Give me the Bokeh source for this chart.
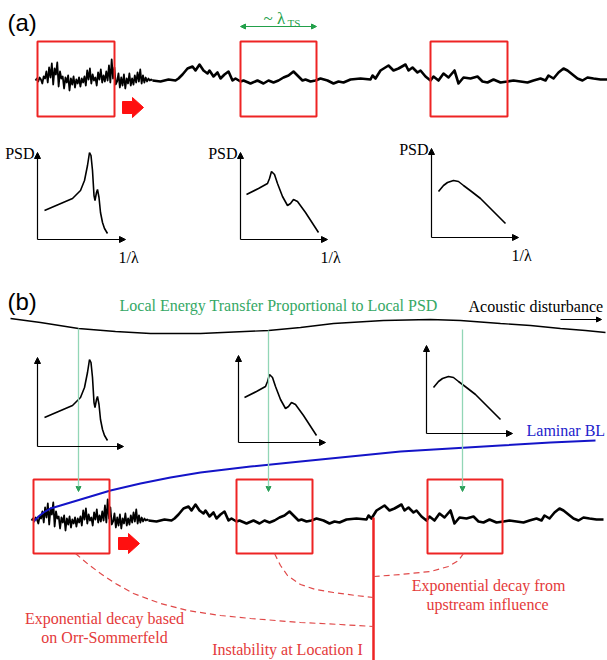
from bokeh.plotting import figure
from bokeh.models import Range1d, Arrow, NormalHead
from bokeh.embed import file_html
from bokeh.resources import INLINE
from bokeh.core.properties import value
import numpy as np

# ---------------- data ----------------
# noisy near-leading-edge part of the disturbance signal (upward offsets, px)
noise_up = [0, 2, -1, 3, 1, -3, 4, 2, 9, -2, 13, 3, 17, -4, 12, 6, 18, -6, 9, 2,
            4, -8, 3, -2, 5, -10, 2, -4, 4, -7, 1, -3, 3, -6, 2, -2, 4, -5, 10, 1,
            12, -3, 6, 0, 3, -5, 8, 1, 11, -2, 5, -1, 9, 0, 15, -2, 21, 2, 13, -4,
            -1, 7, -7, 3, -5, 6, -8, 2, -3, 7, -5, 2, -4, 5, -2, 8, -1, 11, -3, 5,
            -2, 3, -1, 2, 0, 1, 0]
# smoother downstream part of the signal
smooth_x = [152, 160, 168, 175, 178, 182, 187, 192, 195, 199, 203, 207, 209, 213, 217,
            220, 224, 228, 232, 235, 240, 243, 250, 257, 263, 268, 273, 278, 283, 288,
            293, 298, 302, 305, 310, 315, 320, 327, 333, 338, 343, 350, 360, 370, 372,
            375, 380, 388, 393, 398, 405, 408, 412, 417, 420, 425, 430, 433, 438, 443,
            448, 454, 458, 463, 470, 477, 482, 487, 493, 500, 507, 513, 520, 527, 533,
            540, 545, 548, 553, 558, 563, 567, 572, 577, 582, 587, 593, 600, 607]
smooth_up = [0, -1, 1, 0, 2, 6, 12, 14, 10, 16, 10, 7, 10, 4, 8,
             2, 6, 9, 0, 2, -1, 0, -3, 0, -3, 0, -2, 0, 3, 5,
             9, 4, 0, 1, -1, 0, 2, 0, -3, -1, -2, 1, 2, 1, 5,
             2, 10, 15, 10, 12, 16, 10, 13, 8, 10, 4, 0, 4, 0, 7,
             3, 10, -3, 3, 2, 4, -1, -2, 1, -2, -1, 0, -1, -2, 0,
             2, 0, 5, 2, 8, 12, 10, 6, 2, 0, 3, 2, 1, 1]

# PSD sketches: (distance along 1/lambda axis, height above axis)
psd1_dx = [7, 21, 35, 43, 47, 50, 52, 53.5, 55, 56.5, 57.5, 59, 60, 61.5, 63, 65, 67, 70]
psd1_h = [29, 35, 41, 49, 59, 74, 87, 84, 69, 44, 39, 47, 50, 42, 27, 17, 11, 6]
psd2_dx = [6, 18, 27, 29, 31, 34, 37, 42, 47, 50, 53, 57, 65, 78]
psd2_h = [45, 51, 56, 61, 68, 65, 56, 43, 34, 36, 40, 38, 27, 7]
psd3_dx = [7, 12, 16, 22, 27, 32, 40, 49, 60, 74]
psd3_h = [46, 52, 55, 57, 56, 52, 46, 39, 28, 14]

# acoustic disturbance wave
ac_x = [10, 40, 78, 115, 150, 200, 268, 300, 333, 383, 430, 460, 500, 530, 560, 585, 605]
ac_y = [318, 322, 328, 331, 333, 333, 330, 327, 323, 320, 319, 320, 323, 325, 328, 330, 332]

# laminar boundary layer edge
bl_x = [33, 38, 43, 50, 60, 70, 90, 110, 140, 170, 200, 250, 300, 350, 400, 450, 500, 550, 595]
bl_y = [521, 516, 512, 508, 505, 502, 496, 490, 483, 477, 472, 466, 461, 456, 451, 448, 445, 442, 440]

# decay paths (dashed)
d1_x = [75, 88, 100, 115, 133, 160, 187, 220, 250, 300, 340, 373]
d1_y = [553, 564, 573, 583, 593, 603, 610, 615, 618, 622, 624, 626]
d2_x = [274, 280, 287, 300, 315, 333, 355, 373]
d2_y = [553, 565, 575, 584, 589, 592, 595, 597]
d3_x = [463, 458, 448, 430, 400, 373]
d3_y = [553, 560, 566, 571, 574, 576]

# ---------------- layout / styles ----------------
RED = "#ee2424"
RED_T = "#e43a3a"
GREEN_T = "#35a865"
GREEN_L = "#92d6b6"
GREEN_A = "#22a04a"
BLUE = "#1414c8"
SERIF = value("Liberation Serif")
SANS = value("Liberation Sans")

p = figure(width=607, height=660, x_range=Range1d(0, 607), y_range=Range1d(660, 0),
           output_backend="svg", toolbar_location=None, min_border=0,
           background_fill_color="white", border_fill_color="white")
p.axis.visible = False
p.grid.visible = False
p.outline_line_color = None


def draw_signal(dx, base):
    nx = np.linspace(35, 152, len(noise_up)) + dx
    ny = base - np.array(noise_up)
    p.line(nx, ny, line_color="black", line_width=1.8, line_join="round")
    sx = np.array(smooth_x) + dx
    sy = base - np.array(smooth_up)
    p.line(sx, sy, line_color="black", line_width=2.6, line_join="round")


def draw_psd(ox, oy, ax_h, ax_w, cdx, ch, labels):
    p.add_layout(Arrow(end=NormalHead(size=6, fill_color="black", line_color="black"),
                       x_start=ox, y_start=oy, x_end=ox, y_end=oy - ax_h,
                       line_color="black", line_width=1.2))
    p.add_layout(Arrow(end=NormalHead(size=6, fill_color="black", line_color="black"),
                       x_start=ox, y_start=oy, x_end=ox + ax_w, y_end=oy,
                       line_color="black", line_width=1.2))
    p.line(ox + np.array(cdx), oy - np.array(ch), line_color="black", line_width=1.6)
    if labels:
        p.text([ox - 3], [oy - ax_h + 1], text=["PSD"], text_font=SERIF, text_font_size="16px",
               text_align="right", text_baseline="middle", text_color="black")
        p.text([ox + ax_w - 7], [oy + 18], text=["1/λ"], text_font=SERIF, text_font_size="16px",
               text_align="left", text_baseline="middle", text_color="black")


def draw_block_arrow(x0, yc):
    xs = [x0, x0 + 10, x0 + 10, x0 + 21, x0 + 10, x0 + 10, x0]
    ys = [yc - 6, yc - 6, yc - 10, yc, yc + 10, yc + 6, yc + 6]
    p.patch(xs, ys, fill_color="#ff1010", line_color="#ff1010")


# ---------------- panel (a) ----------------
p.text([7], [22], text=["(a)"], text_font=SANS, text_font_size="24px",
       text_baseline="middle", text_align="left", text_color="black")
draw_signal(0, 80)
p.quad(left=[37, 240, 430], right=[114, 316, 507], top=[41, 41, 41], bottom=[116, 116, 116],
       fill_color=None, line_color=RED, line_width=2)
draw_block_arrow(122, 107)
p.add_layout(Arrow(start=NormalHead(size=5, fill_color=GREEN_A, line_color=GREEN_A),
                   end=NormalHead(size=5, fill_color=GREEN_A, line_color=GREEN_A),
                   x_start=240, y_start=26, x_end=316, y_end=26, line_color=GREEN_A, line_width=1.2))
p.text([263], [18], text=["~ λ"], text_font=SERIF, text_font_size="17px",
       text_baseline="middle", text_align="left", text_color=GREEN_A)
p.text([287], [22], text=["TS"], text_font=SERIF, text_font_size="11px",
       text_baseline="middle", text_align="left", text_color=GREEN_A)

draw_psd(37, 239, 87, 88, psd1_dx, psd1_h, True)
draw_psd(240, 239, 87, 87, psd2_dx, psd2_h, True)
draw_psd(431, 237, 89, 87, psd3_dx, psd3_h, True)

# ---------------- panel (b) ----------------
p.text([7], [301], text=["(b)"], text_font=SANS, text_font_size="24px",
       text_baseline="middle", text_align="left", text_color="black")
p.text([119], [305], text=["Local Energy Transfer Proportional to Local PSD"], text_font=SERIF,
       text_font_size="16px", text_baseline="middle", text_align="left", text_color=GREEN_T)
p.text([468], [306], text=["Acoustic disturbance"], text_font=SERIF,
       text_font_size="16px", text_baseline="middle", text_align="left", text_color="black")
p.line(ac_x, ac_y, line_color="black", line_width=1.4)
p.add_layout(Arrow(end=NormalHead(size=5, fill_color="black", line_color="black"),
                   x_start=560, y_start=319, x_end=601, y_end=319, line_color="black", line_width=1))

# green energy-transfer lines
for gx, gy in [(78, 328), (268, 330), (462, 329)]:
    p.add_layout(Arrow(end=NormalHead(size=5, fill_color="#2ca05a", line_color="#2ca05a"),
                       x_start=gx, y_start=gy, x_end=gx, y_end=491,
                       line_color=GREEN_L, line_width=1.3))

draw_psd(37, 446, 89, 86, psd1_dx, psd1_h, False)
draw_psd(238, 442, 87, 87, psd2_dx, psd2_h, False)
draw_psd(426, 433, 88, 86, psd3_dx, psd3_h, False)

p.text([526], [430], text=["Laminar BL"], text_font=SERIF, text_font_size="16px",
       text_baseline="middle", text_align="left", text_color="#2222cc")

draw_signal(-4, 520)
p.line(bl_x, bl_y, line_color=BLUE, line_width=2)
p.quad(left=[33, 236, 427], right=[109, 312, 502], top=[479, 479, 479], bottom=[553, 553, 553],
       fill_color=None, line_color=RED, line_width=2)
draw_block_arrow(118, 543)

p.line([373, 373], [517, 660], line_color=RED, line_width=2.5)
for dx_, dy_ in [(d1_x, d1_y), (d2_x, d2_y), (d3_x, d3_y)]:
    p.line(dx_, dy_, line_color="#e04848", line_width=1.2, line_dash="6 4")

for tx, ty, tt in [(104, 618, "Exponential decay based"), (104, 637, "on Orr-Sommerfeld"),
                   (287, 649, "Instability at Location I"),
                   (488, 585, "Exponential decay from"), (487, 604, "upstream influence")]:
    p.text([tx], [ty], text=[tt], text_font=SERIF, text_font_size="16px",
           text_baseline="middle", text_align="center", text_color=RED_T)

open("out.html", "w").write(file_html(p, INLINE))
